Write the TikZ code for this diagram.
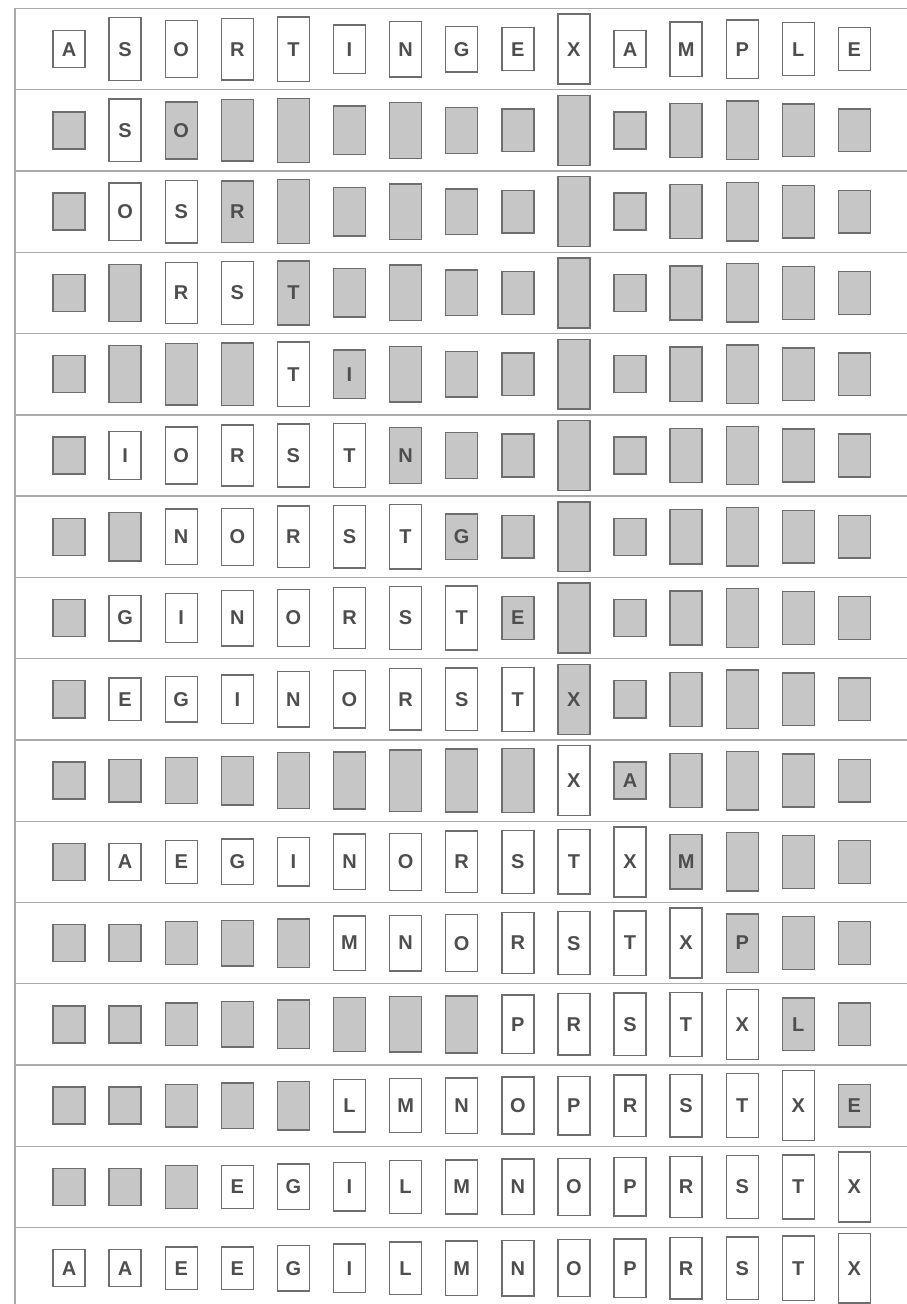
\documentclass[tikz,border=0pt]{standalone}
\usepackage{fontspec}
\setmainfont{Liberation Sans}
\definecolor{boxline}{HTML}{6E6E6E}
\definecolor{boxfill}{HTML}{C6C6C6}
\definecolor{sepline}{HTML}{ABABAB}
\definecolor{txt}{HTML}{4E4E4E}
\def\posA{1}\def\posE{5}\def\posG{7}\def\posI{9}\def\posL{12}\def\posM{13}
\def\posN{14}\def\posO{15}\def\posP{16}\def\posR{18}\def\posS{19}\def\posT{20}\def\posX{24}
\begin{document}
\begin{tikzpicture}[x=1pt,y=-1pt,
  wbox/.style={draw=boxline, line width=1.4pt, fill=white, minimum width=32pt,
    inner sep=0pt, font=\fontsize{20}{20}\selectfont\bfseries, text=txt},
  gbox/.style={wbox, fill=boxfill},
  rowline/.style={draw=sepline, line width=1.4pt}]
\useasboundingbox (0,0) rectangle (907,1304);
% frame and row separators
\coordinate (tl) at (15,8.5);
\coordinate (tr) at (907,8.5);
\coordinate (bl) at (15,1304);
\draw[rowline] (tr) -- (tl) -- (bl);
\foreach \k in {1,...,15} {
  \coordinate (sl\k) at (15,8.5+81.27*\k);
  \coordinate (sr\k) at (907,8.5+81.27*\k);
  \draw[rowline] (sl\k) -- (sr\k);
}
% boxes
\foreach \r/\arr/\ws/\we/\gi in {
  1/{A,S,O,R,T,I,N,G,E,X,A,M,P,L,E}/0/14/-1,
  2/{A,S,O,R,T,I,N,G,E,X,A,M,P,L,E}/1/1/2,
  3/{A,O,S,R,T,I,N,G,E,X,A,M,P,L,E}/1/2/3,
  4/{A,O,R,S,T,I,N,G,E,X,A,M,P,L,E}/2/3/4,
  5/{A,O,R,S,T,I,N,G,E,X,A,M,P,L,E}/4/4/5,
  6/{A,I,O,R,S,T,N,G,E,X,A,M,P,L,E}/1/5/6,
  7/{A,I,N,O,R,S,T,G,E,X,A,M,P,L,E}/2/6/7,
  8/{A,G,I,N,O,R,S,T,E,X,A,M,P,L,E}/1/7/8,
  9/{A,E,G,I,N,O,R,S,T,X,A,M,P,L,E}/1/8/9,
  10/{A,E,G,I,N,O,R,S,T,X,A,M,P,L,E}/9/9/10,
  11/{A,A,E,G,I,N,O,R,S,T,X,M,P,L,E}/1/10/11,
  12/{A,A,E,G,I,M,N,O,R,S,T,X,P,L,E}/5/11/12,
  13/{A,A,E,G,I,M,N,O,P,R,S,T,X,L,E}/8/12/13,
  14/{A,A,E,G,I,L,M,N,O,P,R,S,T,X,E}/5/13/14,
  15/{A,A,E,E,G,I,L,M,N,O,P,R,S,T,X}/3/14/-1,
  16/{A,A,E,E,G,I,L,M,N,O,P,R,S,T,X}/0/14/-1} {
  \foreach \L [count=\c from 0] in \arr {
    \pgfmathsetmacro\h{35.6+1.43*\csname pos\L\endcsname}
    \pgfmathsetmacro\xx{69+56.1*\c}
    \pgfmathsetmacro\yy{8.5+81.27*(\r-0.5)}
    \pgfmathtruncatemacro\t{(\c>=\ws && \c<=\we) ? 1 : ((\c==\gi) ? 2 : 0)}
    \ifcase\t
      \node[gbox, minimum height=\h pt] (b-\r-\c) at (\xx,\yy) {};
    \or
      \node[wbox, minimum height=\h pt] (b-\r-\c) at (\xx,\yy) {\L};
    \or
      \node[gbox, minimum height=\h pt] (b-\r-\c) at (\xx,\yy) {\L};
    \fi
  }
}
\end{tikzpicture}
\end{document}
